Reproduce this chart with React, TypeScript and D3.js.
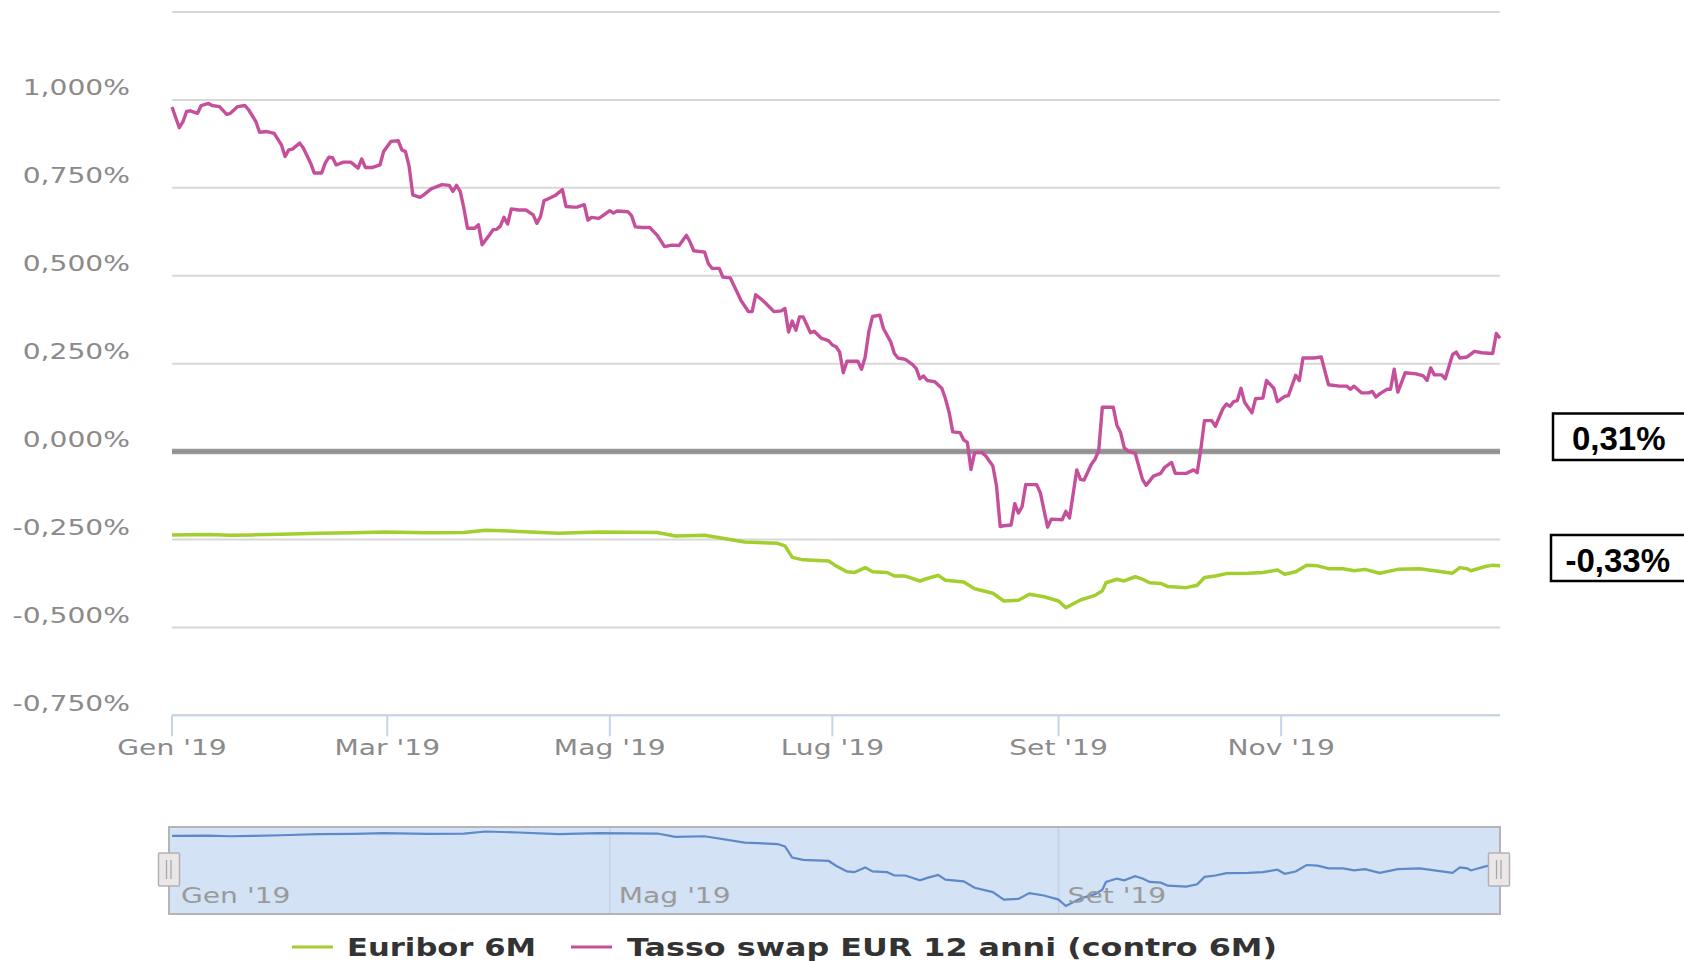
import React from "react";
import * as d3 from "d3";

// ---------- DATA ----------
const swapSeries: [string, number][] = [
  ["01-01",0.980],["01-03",0.921],["01-04",0.938],["01-05",0.967],["01-06",0.969],["01-08",0.962],["01-09",0.984],["01-11",0.990],["01-12",0.984],["01-14",0.981],["01-16",0.959],["01-17",0.962],["01-19",0.981],["01-21",0.984],["01-22",0.972],["01-24",0.938],["01-25",0.908],["01-27",0.910],["01-29",0.905],["01-31",0.872],
  ["02-01",0.839],["02-02",0.858],["02-03",0.860],["02-05",0.877],["02-06",0.863],["02-08",0.820],["02-09",0.792],["02-11",0.792],["02-12",0.820],["02-13",0.837],["02-14",0.836],["02-15",0.815],["02-17",0.823],["02-19",0.823],["02-21",0.806],["02-22",0.832],["02-23",0.808],["02-25",0.808],["02-27",0.815],["02-28",0.853],
  ["03-02",0.882],["03-04",0.884],["03-05",0.858],["03-06",0.853],["03-07",0.811],["03-08",0.730],["03-10",0.723],["03-11",0.730],["03-13",0.747],["03-16",0.759],["03-18",0.757],["03-19",0.740],["03-20",0.757],["03-21",0.740],["03-22",0.692],["03-23",0.635],["03-25",0.635],["03-26",0.645],["03-27",0.588],["03-29",0.616],["03-30",0.631],["03-31",0.632],
  ["04-01",0.641],["04-02",0.666],["04-03",0.647],["04-04",0.690],["04-06",0.687],["04-08",0.687],["04-10",0.673],["04-11",0.649],["04-12",0.668],["04-13",0.714],["04-14",0.718],["04-16",0.728],["04-18",0.745],["04-19",0.697],["04-21",0.695],["04-22",0.695],["04-24",0.702],["04-25",0.658],["04-26",0.666],["04-28",0.663],["04-29",0.670],
  ["05-01",0.685],["05-02",0.678],["05-03",0.684],["05-06",0.682],["05-07",0.670],["05-08",0.639],["05-10",0.637],["05-12",0.637],["05-14",0.615],["05-16",0.583],["05-18",0.587],["05-20",0.586],["05-22",0.615],["05-23",0.596],["05-24",0.571],["05-27",0.567],["05-28",0.535],["05-29",0.521],["05-31",0.521],
  ["06-01",0.496],["06-03",0.494],["06-05",0.451],["06-06",0.429],["06-08",0.398],["06-09",0.398],["06-10",0.446],["06-12",0.429],["06-13",0.419],["06-15",0.398],["06-17",0.400],["06-18",0.407],["06-19",0.340],["06-20",0.371],["06-21",0.345],["06-22",0.383],["06-23",0.383],["06-25",0.338],["06-26",0.342],["06-28",0.322],["06-29",0.319],["06-30",0.315],
  ["07-01",0.303],["07-02",0.298],["07-03",0.283],["07-04",0.224],["07-05",0.257],["07-07",0.257],["07-08",0.257],["07-09",0.234],["07-10",0.269],["07-11",0.341],["07-12",0.384],["07-14",0.388],["07-15",0.350],["07-17",0.312],["07-18",0.279],["07-19",0.266],["07-21",0.262],["07-23",0.247],["07-24",0.236],["07-25",0.207],["07-26",0.215],["07-27",0.202],["07-29",0.199],["07-31",0.180],
  ["08-01",0.150],["08-02",0.112],["08-03",0.056],["08-05",0.054],["08-06",0.033],["08-07",0.026],["08-08",-0.051],["08-09",-0.003],["08-11",-0.003],["08-12",-0.012],["08-14",-0.041],["08-15",-0.098],["08-16",-0.213],["08-17",-0.211],["08-19",-0.209],["08-20",-0.148],["08-21",-0.175],["08-22",-0.157],["08-23",-0.094],["08-26",-0.094],["08-27",-0.117],["08-29",-0.215],["08-30",-0.192],
  ["09-02",-0.194],["09-03",-0.170],["09-04",-0.189],["09-06",-0.052],["09-07",-0.079],["09-08",-0.081],["09-10",-0.036],["09-11",-0.022],["09-12",0.002],["09-13",0.126],["09-16",0.126],["09-17",0.075],["09-18",0.054],["09-19",0.011],["09-20",0.002],["09-22",-0.005],["09-24",-0.079],["09-25",-0.096],["09-27",-0.070],["09-29",-0.062],["09-30",-0.046],
  ["10-02",-0.031],["10-03",-0.062],["10-06",-0.062],["10-08",-0.052],["10-09",-0.060],["10-10",0.007],["10-11",0.088],["10-13",0.088],["10-14",0.072],["10-16",0.121],["10-17",0.135],["10-18",0.129],["10-19",0.142],["10-20",0.145],["10-21",0.180],["10-22",0.140],["10-24",0.110],["10-25",0.150],["10-27",0.152],["10-28",0.202],["10-30",0.180],["10-31",0.142],
  ["11-02",0.157],["11-03",0.159],["11-05",0.217],["11-06",0.202],["11-07",0.266],["11-10",0.266],["11-12",0.269],["11-14",0.190],["11-17",0.186],["11-19",0.186],["11-20",0.177],["11-21",0.186],["11-23",0.167],["11-25",0.167],["11-26",0.171],["11-27",0.155],["11-28",0.164],["11-30",0.177],
  ["12-01",0.177],["12-02",0.234],["12-03",0.169],["12-05",0.224],["12-08",0.221],["12-10",0.215],["12-11",0.202],["12-12",0.238],["12-13",0.218],["12-15",0.218],["12-16",0.207],["12-18",0.276],["12-19",0.283],["12-20",0.266],["12-22",0.269],["12-24",0.285],["12-26",0.281],["12-29",0.279],["12-30",0.336],["12-31",0.322],
];

const euriborSeries: [string, number][] = [
  ["01-01",-0.237],["01-11",-0.236],["01-17",-0.238],["01-23",-0.237],["01-31",-0.235],["02-10",-0.232],["02-20",-0.231],["02-28",-0.229],["03-12",-0.231],["03-22",-0.230],["03-28",-0.224],["04-06",-0.227],["04-17",-0.232],["04-28",-0.229],
  ["05-14",-0.230],["05-19",-0.240],["05-27",-0.238],["06-07",-0.257],["06-16",-0.261],["06-18",-0.268],["06-20",-0.301],["06-23",-0.308],["06-30",-0.311],
  ["07-02",-0.325],["07-05",-0.342],["07-07",-0.344],["07-10",-0.330],["07-12",-0.342],["07-16",-0.344],["07-18",-0.354],["07-21",-0.354],["07-25",-0.368],["07-27",-0.361],["07-30",-0.352],
  ["08-01",-0.366],["08-06",-0.371],["08-09",-0.390],["08-14",-0.403],["08-17",-0.425],["08-21",-0.423],["08-24",-0.406],["08-28",-0.413],
  ["09-01",-0.425],["09-03",-0.444],["09-07",-0.422],["09-11",-0.409],["09-13",-0.396],["09-14",-0.373],["09-17",-0.363],["09-19",-0.368],["09-22",-0.356],["09-24",-0.363],["09-26",-0.373],["09-29",-0.375],
  ["10-01",-0.384],["10-06",-0.387],["10-09",-0.380],["10-11",-0.358],["10-14",-0.354],["10-17",-0.347],["10-23",-0.346],["10-27",-0.344],["10-31",-0.337],
  ["11-02",-0.349],["11-05",-0.342],["11-08",-0.323],["11-11",-0.325],["11-14",-0.333],["11-18",-0.333],["11-21",-0.339],["11-24",-0.335],["11-28",-0.346],
  ["12-03",-0.335],["12-09",-0.333],["12-13",-0.339],["12-18",-0.346],["12-20",-0.330],["12-22",-0.333],["12-23",-0.339],["12-27",-0.327],["12-29",-0.323],["12-31",-0.325],
];

const YEAR = 2019;
const itMonths = ["Gen","Feb","Mar","Apr","Mag","Giu","Lug","Ago","Set","Ott","Nov","Dic"];
const yTicks = [-0.75, -0.5, -0.25, 0, 0.25, 0.5, 0.75, 1.0, 1.25];
const yTicksLabelled = [-0.75, -0.5, -0.25, 0, 0.25, 0.5, 0.75, 1.0];
const legendLabels = ["Euribor 6M", "Tasso swap EUR 12 anni (contro 6M)"];
const lastValueLabels = ["0,31%", "-0,33%"];

// ---------- STYLE ----------
const W = 1684, H = 963;
const PL = 172, PR = 1500, PT = 12, PB = 715.3;
const NAV_T = 827, NAV_B = 914;
const SWAP_COLOR = "#c64f9b";
const EUR_COLOR = "#a2ce2e";
const FONT = "'DejaVu Sans', Verdana, sans-serif";
const SX = 1.28;

type P = { date: Date; v: number };
const parse = d3.timeParse("%Y-%m-%d");
const toPts = (arr: [string, number][]): P[] =>
  arr.map(([d, v]) => ({ date: parse(`${YEAR}-${d}`) as Date, v }));

const itLocale = d3.formatLocale({ decimal: ",", thousands: ".", grouping: [3], currency: ["", "€"], minus: "-" });
const fmtY = (v: number) => itLocale.format(".3f")(v) + "%";
const fmtX = (d: Date) => `${itMonths[d.getMonth()]} '${String(d.getFullYear()).slice(2)}`;

function T(props: { x: number; y: number; anchor?: string; size?: number; fill?: string; weight?: string | number; sx?: number; children: any }) {
  const { x, y, anchor = "start", size = 22, fill = "#888", weight = "normal", sx = SX, children } = props;
  return (
    <text transform={`translate(${x},${y}) scale(${sx},1)`} textAnchor={anchor as any} fontSize={size} fill={fill} fontWeight={weight as any} fontFamily={FONT}>
      {children}
    </text>
  );
}

export default function App() {
  const swap = toPts(swapSeries);
  const eur = toPts(euriborSeries);

  const x = d3.scaleTime().domain([new Date(YEAR, 0, 1), new Date(YEAR, 11, 31)]).range([PL, PR]);
  const y = d3.scaleLinear().domain([-0.75, 1.25]).range([PB, PT]);
  const navY = d3.scaleLinear().domain(d3.extent(eur, (d) => d.v) as [number, number]).range([906, 831.5]);

  const line = d3.line<P>().x((d) => x(d.date)).y((d) => y(d.v));
  const navLine = d3.line<P>().x((d) => x(d.date)).y((d) => navY(d.v));

  const xTicks = d3.timeMonth.every(2)!.range(new Date(YEAR, 0, 1), new Date(YEAR, 11, 31));
  const navTicks = d3.timeMonth.every(4)!.range(new Date(YEAR, 0, 1), new Date(YEAR, 11, 31));

  const handle = (cx: number) => (
    <g>
      <rect x={cx - 10.5} y={853} width={21} height={33} fill="#ebe7e8" stroke="#b2b1b6" strokeWidth={1.5} rx={1} />
      <line x1={cx - 2.5} x2={cx - 2.5} y1={860} y2={879} stroke="#a7a7ab" strokeWidth={1.3} />
      <line x1={cx + 2} x2={cx + 2} y1={860} y2={879} stroke="#a7a7ab" strokeWidth={1.3} />
    </g>
  );

  return (
    <div style={{ position: "absolute", left: 0, top: 0, width: W, height: H, overflow: "hidden", background: "#fff" }}>
      <svg width={W} height={H} style={{ display: "block" }}>
        <rect x={0} y={0} width={W} height={H} fill="#fff" />
        {/* grid */}
        {yTicks.map((t) => (
          <line key={t} x1={PL} x2={PR} y1={y(t)} y2={y(t)} stroke="#d8d8d8" strokeWidth={2} />
        ))}
        {/* y labels */}
        {yTicksLabelled.map((t) => (
          <T key={t} x={130} y={y(t) - 4.5} anchor="end" fill="#8a8a8a">{fmtY(t)}</T>
        ))}
        {/* zero plot line */}
        <line x1={PL} x2={PR} y1={y(0)} y2={y(0)} stroke="#9a9a9a" strokeWidth={5.5} />
        <line x1={PL} x2={PR} y1={y(0)} y2={y(0)} stroke="#8c8c8c" strokeWidth={1.5} />
        {/* x axis */}
        <line x1={PL} x2={PR} y1={PB} y2={PB} stroke="#c5d4e6" strokeWidth={2} />
        {xTicks.map((d) => (
          <g key={+d}>
            <line x1={x(d)} x2={x(d)} y1={PB} y2={PB + 21} stroke="#c5d4e6" strokeWidth={2} />
            <T x={x(d)} y={755} anchor="middle" fill="#8a8a8a">{fmtX(d)}</T>
          </g>
        ))}
        {/* series */}
        <path d={line(eur) || ""} fill="none" stroke={EUR_COLOR} strokeWidth={3.5} strokeLinejoin="round" />
        <path d={line(swap) || ""} fill="none" stroke={SWAP_COLOR} strokeWidth={3.4} strokeLinejoin="round" />

        {/* navigator */}
        <rect x={169} y={NAV_T} width={PR - 169} height={NAV_B - NAV_T} fill="#d3e2f4" stroke="#b4b4b8" strokeWidth={2} />
        {navTicks.slice(1).map((d) => (
          <line key={+d} x1={x(d)} x2={x(d)} y1={NAV_T + 1} y2={NAV_B - 1} stroke="#c3d1e4" strokeWidth={1.5} />
        ))}
        <path d={navLine(eur) || ""} fill="none" stroke="#5d89c9" strokeWidth={2.2} />
        {navTicks.map((d) => (
          <T key={+d} x={x(d) + 9} y={903} fill="#9a9a9a">{fmtX(d)}</T>
        ))}
        {handle(169)}
        {handle(1499)}

        {/* legend */}
        <line x1={292} x2={333} y1={947} y2={947} stroke={EUR_COLOR} strokeWidth={3} />
        <text x={347} y={956} fontSize={24.5} fontWeight="bold" fill="#333" fontFamily={FONT} textLength={189} lengthAdjust="spacingAndGlyphs">{legendLabels[0]}</text>
        <line x1={571} x2={612} y1={947} y2={947} stroke={SWAP_COLOR} strokeWidth={3} />
        <text x={627} y={956} fontSize={24.5} fontWeight="bold" fill="#333" fontFamily={FONT} textLength={650} lengthAdjust="spacingAndGlyphs">{legendLabels[1]}</text>

        {/* last value boxes */}
        <rect x={1553} y={413.5} width={200} height={46.5} fill="#fff" stroke="#000" strokeWidth={2.5} />
        <text x={1572} y={450} fontSize={33} fontWeight="bold" fontFamily="'Liberation Sans', Arial, sans-serif" fill="#000">{lastValueLabels[0]}</text>
        <rect x={1551} y={535} width={200} height={46} fill="#fff" stroke="#000" strokeWidth={2.5} />
        <text x={1565.5} y={571.5} fontSize={33} fontWeight="bold" fontFamily="'Liberation Sans', Arial, sans-serif" fill="#000">{lastValueLabels[1]}</text>
      </svg>
    </div>
  );
}
